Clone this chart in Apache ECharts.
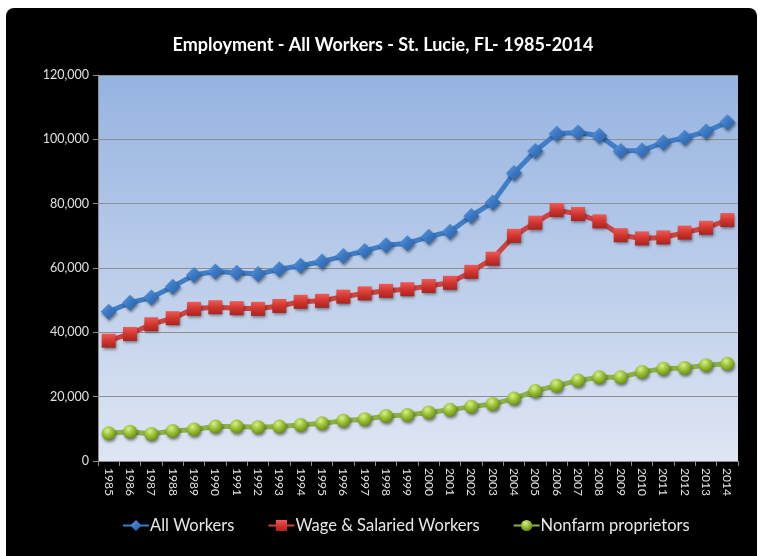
<!DOCTYPE html>
<html><head><meta charset="utf-8">
<script src="https://cdn.jsdelivr.net/npm/echarts@6/dist/echarts.min.js"></script>
<style>html,body{margin:0;padding:0;background:#fff}#c{width:767px;height:556px}</style>
</head><body><div id="c"></div>
<script>
const years = ['1985','1986','1987','1988','1989','1990','1991','1992','1993','1994','1995','1996','1997','1998','1999','2000','2001','2002','2003','2004','2005','2006','2007','2008','2009','2010','2011','2012','2013','2014'];
const allWorkers = [46400,49200,50800,54200,57800,58900,58500,58100,59600,60700,62000,63700,65300,67100,67700,69700,71300,76200,80400,89500,96400,101700,102100,101100,96400,96500,99000,100500,102400,105300];
const wageWorkers = [37400,39500,42500,44400,47300,47800,47500,47300,48200,49500,49800,51100,52100,52900,53400,54400,55400,58800,62900,70000,74100,78000,76800,74500,70200,69200,69500,71000,72500,74900];
const nonfarm = [8600,9100,8400,9300,9800,10700,10700,10500,10700,11200,11700,12500,13000,14000,14300,15100,15900,16900,17700,19400,21800,23400,25000,26000,26000,27700,28700,28900,29800,30200];
const seriesNames = ['All Workers','Wage & Salaried Workers','Nonfarm proprietors'];

const chart = echarts.init(document.getElementById('c'));
const font = 'Lato, "Open Sans", sans-serif';
const shadow = {shadowColor:'rgba(0,0,0,0.45)', shadowBlur:3, shadowOffsetX:1, shadowOffsetY:2};
chart.setOption({
  backgroundColor: '#fff',
  animation: false,
  graphic: [{type:'rect', z:-10, silent:true, shape:{x:6,y:8,width:751,height:560,r:[8,8,0,0]}, style:{fill:'#000'}}],
  title: {text:'Employment - All Workers - St. Lucie, FL- 1985-2014', left:378, top:31, textAlign:'center',
    textStyle:{color:'#fff', fontFamily:font, fontWeight:'bold', fontSize:18}},
  grid: {left:98, top:75, width:640, height:386, show:true, borderWidth:0,
    backgroundColor: new echarts.graphic.LinearGradient(0,0,0,1,[{offset:0,color:'#95b3e1'},{offset:1,color:'#dfe6f3'}])},
  legend: {bottom:17, left:117, itemGap:33, itemWidth:26, itemHeight:14,
    textStyle:{color:'#e8e8e8', fontFamily:font, fontSize:16.5, padding:[0,0,0,-4]}, data:seriesNames},
  xAxis: {type:'category', data:years, boundaryGap:true,
    axisLine:{lineStyle:{color:'#8c8c8c', width:1}},
    axisTick:{show:true, interval:0, length:5, lineStyle:{color:'#8c8c8c'}},
    axisLabel:{interval:0, rotate:-90, color:'#e0e0e0', fontFamily:font, fontSize:12, margin:7}},
  yAxis: {type:'value', min:0, max:120000, interval:20000,
    axisLine:{show:true, lineStyle:{color:'#8c8c8c', width:1}},
    axisTick:{show:true, length:5, lineStyle:{color:'#8c8c8c'}},
    splitLine:{lineStyle:{color:'#8e8e8e', width:1}},
    axisLabel:{color:'#e0e0e0', fontFamily:font, fontSize:12.5, margin:9,
      formatter: v => v.toLocaleString('en-US')}},
  series: [
    {name:seriesNames[0], type:'line', data:allWorkers, symbol:'diamond', symbolSize:16,
      lineStyle:{color:'#3f7dc6', width:5},
      itemStyle:Object.assign({color:new echarts.graphic.LinearGradient(0,0,1,1,[{offset:0,color:'#5b9be0'},{offset:0.5,color:'#3a77c2'},{offset:1,color:'#2a5e9e'}])}, shadow), z:3},
    {name:seriesNames[1], type:'line', data:wageWorkers, symbol:'rect', symbolSize:14,
      lineStyle:{color:'#cc4440', width:5},
      itemStyle:Object.assign({color:new echarts.graphic.LinearGradient(0,0,0,1,[{offset:0,color:'#ee5a55'},{offset:0.5,color:'#d23630'},{offset:1,color:'#a82420'}])}, shadow), z:2},
    {name:seriesNames[2], type:'line', data:nonfarm, symbol:'circle', symbolSize:14,
      lineStyle:{color:'#8cb04a', width:5},
      itemStyle:Object.assign({color:new echarts.graphic.RadialGradient(0.4,0.3,0.7,[{offset:0,color:'#d8f08a'},{offset:0.5,color:'#9cc236'},{offset:1,color:'#6a8c1a'}])}, shadow), z:1}
  ]
});
</script></body></html>
